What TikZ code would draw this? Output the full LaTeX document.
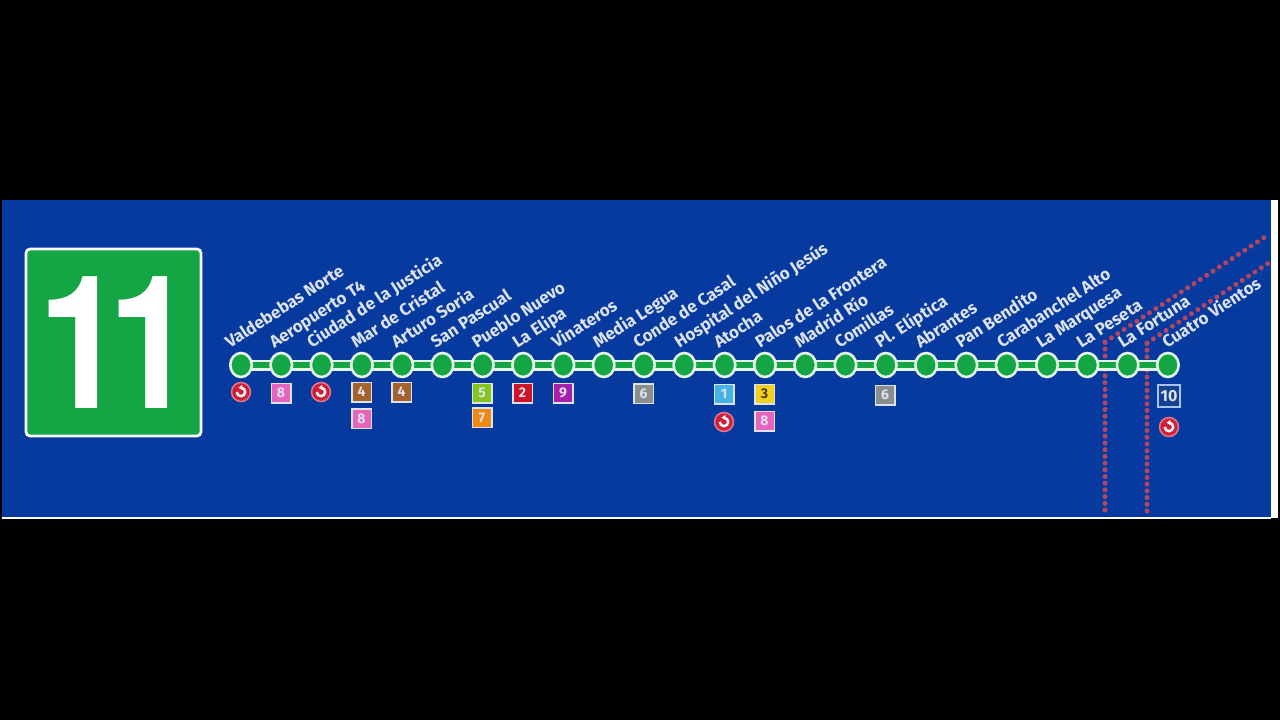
\documentclass[tikz,border=0pt]{standalone}
\usepackage{fontspec}
\setmainfont{Fira Sans}
\newfontfamily\numfont[FakeStretch=0.84]{TeX Gyre Heros}
\usetikzlibrary{shapes.geometric}
\pgfdeclarelayer{bg}
\pgfsetlayers{bg,main}
\definecolor{panel}{HTML}{063A9F}
\definecolor{linegreen}{HTML}{14A544}
\definecolor{casing}{HTML}{E4F4E6}
\definecolor{dotred}{HTML}{B8455F}
\definecolor{symred}{HTML}{D01F38}
\definecolor{symedge}{HTML}{E0788A}
\definecolor{bpink}{HTML}{E565BC}
\definecolor{bbrown}{HTML}{A5622C}
\definecolor{blime}{HTML}{84C51E}
\definecolor{borange}{HTML}{EE8A14}
\definecolor{bred}{HTML}{CC1428}
\definecolor{bpurple}{HTML}{A81FA8}
\definecolor{bgray}{HTML}{8A8F8C}
\definecolor{bcyan}{HTML}{45B4E2}
\definecolor{byellow}{HTML}{F2D020}
\definecolor{bnavy}{HTML}{15408F}
\definecolor{bedge}{HTML}{DCE2EE}
\definecolor{bluedge}{HTML}{A8C4EC}
\tikzset{
  x=1pt,y=-1pt,
  station/.style={ellipse,draw=casing,fill=linegreen,line width=2.6pt,minimum width=21.5pt,minimum height=24pt,inner sep=0pt},
  stationlabel/.style={anchor=base west,rotate=33,text=bedge,font=\bfseries\fontsize{17}{17}\selectfont,inner sep=0pt},
  badge/.style={rectangle,draw=bedge,line width=1.5pt,minimum size=19.5pt,inner sep=0pt,text=bedge,font=\bfseries\fontsize{14}{14}\selectfont},
  metrosym/.style={circle,draw=symedge,fill=symred,line width=1.5pt,minimum size=19pt,inner sep=0pt},
  metroarrow/.style={draw=white,line width=2.4pt},
  dotline/.style={draw=dotred,line width=5pt,line cap=round,dash pattern=on 0pt off 6.7pt},
  dotdiag/.style={dotline,dash pattern=on 0pt off 7.6pt},
  casingline/.style={draw=casing,line width=11pt},
  greenline/.style={draw=linegreen,line width=6.5pt},
}
\newcommand{\metrosign}[3]{%
  \node[metrosym] (#1) at (#2,#3) {};
  \draw[metroarrow] (#1.center) ++(-4.2pt,0pt) arc[start angle=180,end angle=440,radius=4.2pt];
  \fill[white] (#1.center) ++(-2.5pt,4.4pt) -- ++(3.8pt,2.6pt) -- ++(0pt,-5pt) -- cycle;
}
\begin{document}
\begin{tikzpicture}
\useasboundingbox (0,0) rectangle (1280,720);
\begin{pgfonlayer}{bg}
  \fill[black] (0,0) rectangle (1280,720);
  \fill[white] (2,517) rectangle (1271,518.5);
  \fill[white] (1271,200) rectangle (1278,518);
  \fill[panel] (2,200) rectangle (1271,517);
\end{pgfonlayer}
% stations
\foreach \i in {1,...,24}{
  \pgfmathsetmacro{\sx}{241+(\i-1)*40.3}
  \node[station] (s\i) at (\sx,365) {};
}
\coordinate (a0) at (1105,510);
\coordinate (a1) at (1105,342);
\coordinate (a2) at (1268,235);
\coordinate (b0) at (1147,511);
\coordinate (b1) at (1147,343);
\coordinate (b2) at (1270,262);
\begin{pgfonlayer}{bg}
  \draw[dotline] (a0) -- (a1);
  \draw[dotdiag] (a1) -- (a2);
  \draw[dotline] (b0) -- (b1);
  \draw[dotdiag] (b1) -- (b2);
  \draw[casingline] (s1.center) foreach \i in {2,...,24}{ -- (s\i.center)};
  \draw[greenline] (s1.center) foreach \i in {2,...,24}{ -- (s\i.center)};
\end{pgfonlayer}
% line number sign
\node[rectangle,rounded corners=4pt,draw=white,fill=linegreen,line width=2.6pt,minimum width=175pt,minimum height=187pt,inner sep=0pt] (sign) at (113.5,342.5) {};
\node[anchor=base west,inner sep=0pt,text=white,font=\numfont\bfseries\fontsize{186}{186}\selectfont] (signno) at (38.5,408) {1\kern-17pt 1};
% labels
\foreach \i/\d/\t in {
 1/-11/Valdebebas Norte,2/-7/Aeropuerto T4,3/-10/Ciudad de la Justicia,4/-6/Mar de Cristal,
 5/-6/Arturo Soria,6/-7/San Pascual,7/-6/Pueblo Nuevo,8/-6/La Elipa,9/-7/Vinateros,
 10/-6/Media Legua,11/-6/Conde de Casal,12/-5/Hospital del Niño Jesús,13/-6/Atocha,
 14/-5/Palos de la Frontera,15/-6/Madrid Río,16/-6/Comillas,17/-6/Pl. Elíptica,18/-6/Abrantes,
 19/-6/Pan Bendito,20/-5/Carabanchel Alto,21/-6/La Marquesa,22/-6/La Peseta,23/-5/La Fortuna,24/-1/Cuatro Vientos}{
  \pgfmathsetmacro{\lx}{241+(\i-1)*40.3+\d}
  \node[stationlabel] (l\i) at (\lx,349) {\t};
}
% connections
\metrosign{m1}{241}{392}
\node[badge,fill=bpink] (b2a) at (281,393) {8};
\metrosign{m3}{321}{392}
\node[badge,fill=bbrown] (b4a) at (361.5,392) {4};
\node[badge,fill=bpink] (b4b) at (361.5,418.5) {8};
\node[badge,fill=bbrown] (b5a) at (401.5,392) {4};
\node[badge,fill=blime] (b7a) at (482,393) {5};
\node[badge,fill=borange] (b7b) at (482,417.5) {7};
\node[badge,fill=bred] (b8a) at (522.5,393) {2};
\node[badge,fill=bpurple] (b9a) at (563,393) {9};
\node[badge,fill=bgray] (b11a) at (643.5,393.5) {6};
\node[badge,fill=bcyan] (b13a) at (724,394) {1};
\metrosign{m13}{724}{422}
\node[badge,fill=byellow,text=black!70!byellow] (b14a) at (764.5,394) {3};
\node[badge,fill=bpink] (b14b) at (764.5,421) {8};
\node[badge,fill=bgray] (b17a) at (885,395) {6};
\node[badge,fill=bnavy,draw=bluedge,line width=2.2pt,minimum size=22pt,font=\bfseries\fontsize{16}{16}\selectfont] (b24a) at (1169,396) {10};
\metrosign{m24}{1169}{427}
\end{tikzpicture}
\end{document}
